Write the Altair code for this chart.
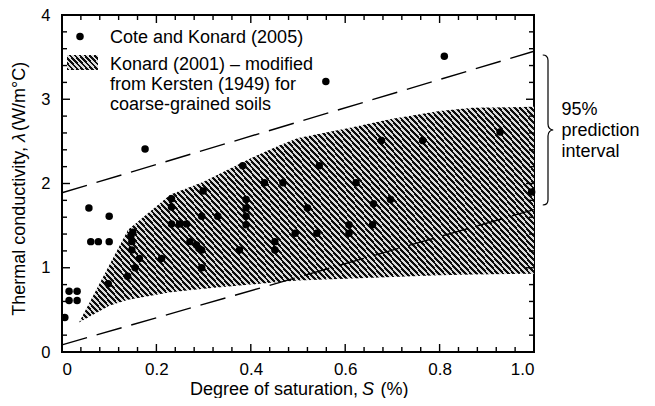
import altair as alt
import pandas as pd
import numpy as np

# ---------------- data ----------------
cote_s = [0.006, 0.015, 0.032, 0.015, 0.032, 0.057, 0.061, 0.077, 0.100, 0.100,
          0.098, 0.139, 0.146, 0.150, 0.148, 0.148, 0.155, 0.164, 0.176, 0.211,
          0.232, 0.232, 0.232, 0.249, 0.264, 0.271, 0.285, 0.290, 0.296, 0.296,
          0.296, 0.299, 0.330, 0.376, 0.383, 0.390, 0.390, 0.390, 0.390, 0.429,
          0.451, 0.451, 0.468, 0.494, 0.520, 0.540, 0.545, 0.559, 0.608, 0.608,
          0.623, 0.658, 0.660, 0.677, 0.696, 0.764, 0.810, 0.928, 0.995]
cote_k = [0.41, 0.72, 0.72, 0.61, 0.61, 1.71, 1.31, 1.31, 1.31, 1.61,
          0.81, 0.90, 1.38, 1.42, 1.31, 1.21, 1.00, 1.11, 2.41, 1.11,
          1.82, 1.72, 1.52, 1.52, 1.52, 1.31, 1.27, 1.23, 1.21, 1.00,
          1.61, 1.91, 1.61, 1.21, 2.21, 1.81, 1.71, 1.61, 1.51, 2.01,
          1.31, 1.21, 2.01, 1.41, 1.71, 1.41, 2.21, 3.21, 1.51, 1.41,
          2.01, 1.51, 1.76, 2.51, 1.81, 2.51, 3.51, 2.61, 1.90]

band_s = [0.036, 0.10, 0.14, 0.20, 0.23, 0.30, 0.40, 0.46, 0.50, 0.60, 0.70, 0.80, 0.87, 1.00]
band_upper = [0.35, 1.03, 1.45, 1.73, 1.87, 2.02, 2.30, 2.45, 2.54, 2.65, 2.77, 2.86, 2.90, 2.91]
band_lower = [0.35, 0.55, 0.62, 0.68, 0.71, 0.75, 0.80, 0.83, 0.85, 0.87, 0.89, 0.91, 0.92, 0.93]

pi_s = [0.0, 1.0]
pi_upper = [1.89, 3.57]
pi_lower = [0.085, 1.69]

x_major = [0.0, 0.2, 0.4, 0.6, 0.8, 1.0]
x_minor = [0.04, 0.08, 0.12, 0.16, 0.24, 0.28, 0.32, 0.36, 0.44, 0.48,
           0.52, 0.56, 0.64, 0.68, 0.72, 0.76, 0.84, 0.88, 0.92, 0.96]
y_major = [0, 1, 2, 3, 4]
y_minor = [0.2, 0.4, 0.6, 0.8, 1.2, 1.4, 1.6, 1.8, 2.2, 2.4, 2.6, 2.8,
           3.2, 3.4, 3.6, 3.8]

legend_cote = "Cote and Konard (2005)"
legend_band = ["Konard (2001) \u2013 modified", "from Kersten (1949) for", "coarse-grained soils"]
brace_text = ["95%", "prediction", "interval"]

# ---------------- layout / style ----------------
W, H = 472, 337
FONT = "Liberation Sans"


def hatch(w, h, period=4.0, ang_deg=48, frac=0.5, dark="#0d0d0d", light="#dcdcdc"):
    a = np.radians(ang_deg)
    dx, dy = np.cos(a), np.sin(a)
    gux, guy = dy / h, -dx / w
    k = (gux - guy) / (gux ** 2 + guy ** 2)
    x2, y2 = k * gux, 1 + k * guy
    span = w * np.sin(a) + h * np.cos(a)
    n = max(1, int(round(span / period)))
    stops = []
    for i in range(n):
        stops += [
            alt.GradientStop(offset=i / n, color=dark),
            alt.GradientStop(offset=(i + frac) / n, color=dark),
            alt.GradientStop(offset=(i + frac) / n, color=light),
            alt.GradientStop(offset=(i + 1) / n, color=light),
        ]
    return alt.LinearGradient(gradient="linear", stops=stops,
                              x1=0, y1=1, x2=float(x2), y2=float(y2))


xscale = alt.Scale(domain=[0, 1], nice=False, zero=False)
yscale = alt.Scale(domain=[0, 4], nice=False, zero=False)
xaxis = alt.Axis(values=x_major, title=None, domain=False, ticks=False, tickSize=0,
                 grid=False, labelPadding=9.5, labelFont=FONT, labelFontSize=17,
                 labelColor="black",
                 labelExpr="datum.value == 0 ? '0' : format(datum.value, '.1f')")
yaxis = alt.Axis(values=y_major, title=None, domain=False, ticks=False, tickSize=0,
                 grid=False, labelPadding=12, labelFont=FONT, labelFontSize=16.5,
                 labelColor="black", format="d")


def X(f="x"):
    return alt.X(f + ":Q", scale=xscale, axis=xaxis)


def Y(f="y"):
    return alt.Y(f + ":Q", scale=yscale, axis=yaxis)


one = pd.DataFrame({"k": [0]})

band_df = pd.DataFrame({"x": band_s, "y": band_upper, "y2": band_lower})
band_w = (band_s[-1] - band_s[0]) * W
band_h = (max(band_upper) - min(band_lower)) / 4 * H
band = alt.Chart(band_df).mark_area(
    fill=hatch(band_w, band_h), stroke=None, opacity=1, interpolate="linear"
).encode(x=X(), y=Y(), y2="y2:Q")

pi_df = pd.DataFrame({
    "x": pi_s + pi_s,
    "y": pi_upper + pi_lower,
    "line": ["upper"] * 2 + ["lower"] * 2,
})
pi_lines = alt.Chart(pi_df).mark_line(
    color="black", strokeWidth=1.4, strokeDash=[26, 10]
).encode(x=X(), y=Y(), detail="line:N")

pts_df = pd.DataFrame({"x": cote_s, "y": cote_k})
points = alt.Chart(pts_df).mark_circle(size=56, color="black", opacity=1).encode(x=X(), y=Y())


# inward ticks on all four sides
def xticks(vals, length, top):
    df = pd.DataFrame({"x": vals})
    if top:
        return alt.Chart(df).mark_rule(color="black", strokeWidth=1.4).encode(
            x=X(), y=alt.value(0), y2=alt.value(length))
    return alt.Chart(df).mark_rule(color="black", strokeWidth=1.4).encode(
        x=X(), y=alt.value(H), y2=alt.value(H - length))


def yticks(vals, length, right):
    df = pd.DataFrame({"y": vals})
    if right:
        return alt.Chart(df).mark_rule(color="black", strokeWidth=1.4).encode(
            y=Y(), x=alt.value(W), x2=alt.value(W - length))
    return alt.Chart(df).mark_rule(color="black", strokeWidth=1.4).encode(
        y=Y(), x=alt.value(0), x2=alt.value(length))


ticks = [
    xticks(x_major, 8, False), xticks(x_minor, 5, False),
    xticks(x_major, 8, True), xticks(x_minor, 5, True),
    yticks(y_major, 8, False), yticks(y_minor, 5, False),
    yticks(y_major, 8, True), yticks(y_minor, 5, True),
]

# legend
leg_dot = alt.Chart(one).mark_circle(size=56, color="black", opacity=1).encode(
    x=alt.value(18), y=alt.value(21.5))
leg_txt1 = alt.Chart(one).mark_text(
    text=legend_cote, font=FONT, fontSize=18, align="left", baseline="alphabetic", color="black"
).encode(x=alt.value(48), y=alt.value(28))
leg_rect = alt.Chart(one).mark_rect(fill=hatch(31, 15, period=3.6), opacity=1).encode(
    x=alt.value(5), x2=alt.value(36), y=alt.value(40), y2=alt.value(55))
leg_txt2 = alt.Chart(one).mark_text(
    text=legend_band, font=FONT, fontSize=18, align="left", baseline="alphabetic",
    lineHeight=20, color="black"
).encode(x=alt.value(48), y=alt.value(55))

# brace + annotation
brace_path = ("M-0.07,-1 C-0.03,-1 0,-0.98 0,-0.93 L0,-0.08 C0,-0.03 0.03,0 0.07,0 "
              "C0.03,0 0,0.03 0,0.08 L0,0.93 C0,0.98 -0.03,1 -0.07,1")
brace = alt.Chart(one).mark_point(
    shape=brace_path, size=22500, filled=False, color="black", strokeWidth=1.2, opacity=1
).encode(x=alt.value(486), y=alt.value(115))
brace_lbl = alt.Chart(one).mark_text(
    text=brace_text, font=FONT, fontSize=18, align="left", baseline="alphabetic",
    lineHeight=21, color="black"
).encode(x=alt.value(499.5), y=alt.value(100))

# axis titles with italic symbols
xt1 = alt.Chart(one).mark_text(text="Degree of saturation,", font=FONT, fontSize=18,
                               align="right", baseline="alphabetic", color="black"
                               ).encode(x=alt.value(296), y=alt.value(379.5))
xt2 = alt.Chart(one).mark_text(text="S", font=FONT, fontSize=18, fontStyle="italic",
                               align="left", baseline="alphabetic", color="black"
                               ).encode(x=alt.value(300), y=alt.value(379.5))
xt3 = alt.Chart(one).mark_text(text="(%)", font=FONT, fontSize=18,
                               align="left", baseline="alphabetic", color="black"
                               ).encode(x=alt.value(318.5), y=alt.value(379.5))

yt1 = alt.Chart(one).mark_text(text="Thermal conductivity,", font=FONT, fontSize=18,
                               angle=270, align="right", baseline="alphabetic", color="black"
                               ).encode(x=alt.value(-37), y=alt.value(132))
yt2 = alt.Chart(one).mark_text(text="\u03bb", font=FONT, fontSize=18, fontStyle="italic",
                               angle=270, align="left", baseline="alphabetic", color="black"
                               ).encode(x=alt.value(-37), y=alt.value(127))
yt3 = alt.Chart(one).mark_text(text="(W/m\u00b0C)", font=FONT, fontSize=18,
                               angle=270, align="left", baseline="alphabetic", color="black"
                               ).encode(x=alt.value(-37), y=alt.value(116))

chart = alt.layer(
    band, pi_lines, points, *ticks,
    leg_dot, leg_txt1, leg_rect, leg_txt2,
    brace, brace_lbl, xt1, xt2, xt3, yt1, yt2, yt3,
).properties(
    width=W, height=H,
    autosize=alt.AutoSizeParams(type="none"),
    padding={"left": 54, "top": 7, "right": 111, "bottom": 46},
).configure_view(stroke="black", strokeWidth=2)

chart.save("out.html", embed_options={"renderer": "svg", "actions": False})
